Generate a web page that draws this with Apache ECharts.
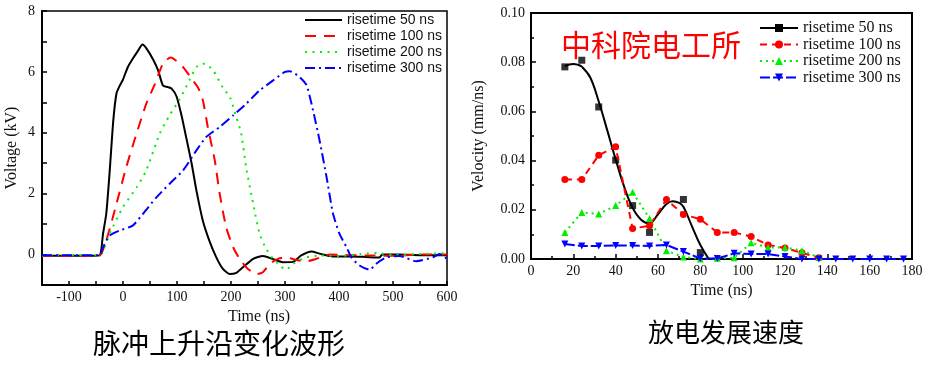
<!DOCTYPE html>
<html><head><meta charset="utf-8">
<script src="https://cdn.jsdelivr.net/npm/echarts@6/dist/echarts.min.js"></script>
<style>html,body{margin:0;padding:0;background:#fff}#c{width:926px;height:382px}</style>
</head><body><div id="c"></div>
<script>
// ---------- shared ----------
const seriesNames = ['risetime 50 ns', 'risetime 100 ns', 'risetime 200 ns', 'risetime 300 ns'];
const waveColors = ['#000000', '#ff0000', '#00ee00', '#0000ff'];

// ---------- left chart: voltage waveforms [time ns, voltage kV] ----------
const wave50 = [[-150,-0.04],[-100,-0.04],[-60,-0.04],[-43,-0.02],[-37,0.68],[-31,1.34],[-25,2.65],[-18,4.4],[-12,5.3],[-6,5.55],[0,5.75],[9,6.16],[18,6.43],[28,6.7],[36,6.9],[43,6.78],[56,6.4],[65,6.05],[74,5.55],[83,5.5],[90,5.45],[99,5.2],[108,4.6],[117,3.85],[127,3.0],[136,2.1],[148,1.1],[160,0.45],[173,-0.1],[185,-0.47],[198,-0.64],[210,-0.6],[222,-0.42],[241,-0.14],[259,-0.05],[278,-0.15],[296,-0.25],[315,-0.24],[330,-0.03],[349,0.1],[364,0.03],[389,-0.06],[420,-0.06],[450,-0.08],[475,-0.1],[480,0],[510,0],[550,-0.02],[600,-0.02]];
const wave100 = [[-150,-0.05],[-100,-0.05],[-60,-0.05],[-43,-0.03],[-31,0.46],[-12,1.67],[6,2.87],[25,3.97],[43,4.95],[59,5.6],[74,6.27],[88,6.47],[96,6.4],[111,6.16],[127,5.78],[139,5.48],[148,5.06],[157,4.19],[170,3.09],[179,2.0],[191,0.9],[204,0.24],[216,-0.14],[231,-0.47],[248,-0.64],[259,-0.58],[272,-0.3],[287,-0.14],[302,-0.09],[321,-0.18],[340,-0.22],[358,-0.14],[383,0],[420,-0.02],[460,-0.03],[500,-0.04],[550,0],[600,0]];
const wave200 = [[-150,-0.03],[-100,-0.02],[-43,-0.02],[-25,0.68],[0,1.56],[25,2.2],[43,2.76],[68,3.97],[86,4.57],[105,5.1],[123,5.72],[136,6.16],[151,6.27],[167,6.05],[185,5.48],[198,5.17],[210,4.5],[219,3.97],[228,2.87],[241,1.67],[253,0.68],[265,0.19],[278,-0.14],[293,-0.4],[302,-0.5],[315,-0.3],[340,-0.09],[364,-0.03],[400,-0.05],[440,0.02],[470,0.05],[500,-0.02],[550,0.02],[600,0.05]];
const wave300 = [[-150,-0.02],[-100,-0.02],[-43,-0.02],[-37,0.24],[-25,0.62],[-6,0.79],[18,0.95],[37,1.34],[62,1.88],[86,2.32],[111,2.76],[136,3.42],[154,3.86],[179,4.19],[204,4.57],[228,4.95],[253,5.39],[278,5.72],[299,5.99],[309,6.02],[327,5.83],[340,5.56],[352,4.73],[364,3.75],[377,2.54],[389,1.34],[401,0.68],[414,0.24],[423,-0.09],[438,-0.36],[457,-0.5],[469,-0.3],[488,-0.09],[512,-0.05],[543,-0.22],[574,-0.09],[586,0.02],[600,-0.14]];

// ---------- right chart: discharge velocity ----------
const velTime = [16,24,32,40,48,56,64,72,80,88,96,104,112,120,128,136,144,152,160,168,176];
const vel50Time = [16,24,32,40,48,56,72,80];
const vel50 = [0.0781,0.0808,0.0618,0.0402,0.0217,0.0108,0.0242,0.0026];
const fit50Time = [16,18,20,22,24,28,32,36,40,44,48,52,56,60,64,67,70,72,76,80,84];
const fit50 = [0.0784,0.0791,0.0793,0.079,0.0782,0.0738,0.064,0.0524,0.0405,0.0294,0.0208,0.016,0.0145,0.0182,0.0224,0.0235,0.0228,0.0212,0.0134,0.0057,0];
const vel100 = [0.0323,0.0323,0.0422,0.0456,0.0124,0.0135,0.0242,0.0181,0.0162,0.0108,0.0108,0.0091,0.0057,0.0045,0.0025,0.0005];
const vel200 = [0.0108,0.0189,0.0183,0.0217,0.0271,0.0165,0.0034,0.0008,0,0.0003,0.0005,0.0066,0.0047,0.0047,0.0034,0.0007];
const vel300 = [0.0061,0.0053,0.0053,0.0055,0.0055,0.0053,0.0057,0.003,0.0002,0.0002,0.0023,0.002,0.002,0.001,0,0,0,0,0,0,0];

// ---------- captions ----------
const leftCaption = '脉冲上升沿变化波形';
const rightCaption = '放电发展速度';
const watermark = '中科院电工所';

const zip = (xs, ys) => ys.map((y, i) => [xs[i], y]);
const SERIF = 'Liberation Serif';
const velPrefix = 'v·';

const chart = echarts.init(document.getElementById('c'), null, {renderer: 'canvas'});

function axisBase(extra) {
  return Object.assign({
    type: 'value',
    splitLine: {show: false},
    axisLine: {onZero: false, lineStyle: {color: '#000', width: 2}},
    axisTick: {inside: true, length: 5, lineStyle: {color: '#000', width: 1.5}},
    axisLabel: {fontFamily: SERIF, fontSize: 14, color: '#111'},
    nameTextStyle: {fontFamily: SERIF, fontSize: 16, color: '#111'}
  }, extra);
}

const waveData = [wave50, wave100, wave200, wave300];
const waveDash = ['solid', [11, 8], [2, 5.5], [10, 4, 2, 4]];

const series = [];
waveData.forEach((d, i) => {
  series.push({
    name: seriesNames[i], type: 'line', xAxisIndex: 0, yAxisIndex: 0,
    data: d, smooth: 0.2, symbol: 'none',
    lineStyle: {color: waveColors[i], width: 2, type: waveDash[i]},
    itemStyle: {color: waveColors[i]}
  });
});

const velColors = ['#000000', '#ff0000', '#00ee00', '#0000ff'];
const downTri = 'path://M0,0 L10,0 L5,9 Z';
// 50 ns fit curve (legend entry) and its measured points
series.push({
  name: velPrefix + seriesNames[0], type: 'line', xAxisIndex: 1, yAxisIndex: 1,
  data: zip(fit50Time, fit50), smooth: 0.4, symbol: 'rect', showSymbol: false,
  lineStyle: {color: velColors[0], width: 2}, itemStyle: {color: velColors[0]}
});
series.push({
  name: 'points 50', type: 'scatter', xAxisIndex: 1, yAxisIndex: 1,
  data: zip(vel50Time, vel50), symbol: 'rect', symbolSize: 7,
  itemStyle: {color: velColors[0]}
});
const velSets = [vel100, vel200, vel300];
const velSym = ['circle', 'triangle', downTri];
const velDash = [[7, 5], [2, 4], [10, 3]];
velSets.forEach((v, k) => {
  const i = k + 1;
  series.push({
    name: velPrefix + seriesNames[i], type: 'line', xAxisIndex: 1, yAxisIndex: 1,
    data: zip(velTime, v), symbol: velSym[k], symbolSize: 7, showSymbol: true,
    lineStyle: {color: velColors[i], width: 2, type: velDash[k]},
    itemStyle: {color: velColors[i]}
  });
});

const option = {
  animation: false,
  backgroundColor: '#ffffff',
  grid: [
    {left: 42, top: 11, width: 405, height: 274, show: true, borderColor: '#000', borderWidth: 1.5, backgroundColor: 'transparent'},
    {left: 531, top: 13, width: 381, height: 246, show: true, borderColor: '#000', borderWidth: 2, backgroundColor: 'transparent'}
  ],
  xAxis: [
    axisBase({gridIndex: 0, min: -150, max: 600, interval: 50,
      axisTick: {inside: true, length: 4, lineStyle: {color: '#000', width: 1.5}},
      axisLabel: {margin: 5, fontFamily: SERIF, fontSize: 14, color: '#111',
        formatter: v => (v % 100 === 0 ? String(v) : '')},
      name: 'Time (ns)', nameLocation: 'middle', nameGap: 24,
      nameTextStyle: {fontFamily: SERIF, fontSize: 16, color: '#111', padding: [0, 0, 0, 29]}}),
    axisBase({gridIndex: 1, min: 0, max: 180, interval: 20,
      minorTick: {show: true, splitNumber: 2, length: 3, lineStyle: {color: '#000', width: 1.5}},
      axisLabel: {margin: 5, fontFamily: SERIF, fontSize: 14, color: '#111'},
      name: 'Time (ns)', nameLocation: 'middle', nameGap: 24})
  ],
  yAxis: [
    axisBase({gridIndex: 0, min: -1, max: 8, interval: 1,
      axisLabel: {margin: 7, fontFamily: SERIF, fontSize: 14, color: '#111',
        formatter: v => (v >= 0 && v % 2 === 0 ? String(v) : '')},
      name: 'Voltage (kV)', nameLocation: 'middle', nameGap: 22, nameRotate: 90}),
    axisBase({gridIndex: 1, min: 0, max: 0.1, interval: 0.02,
      minorTick: {show: true, splitNumber: 2, length: 3, lineStyle: {color: '#000', width: 1.5}},
      axisLabel: {margin: 6, fontFamily: SERIF, fontSize: 14, color: '#111',
        formatter: v => v.toFixed(2)},
      name: 'Velocity (mm/ns)', nameLocation: 'middle', nameGap: 44, nameRotate: 90})
  ],
  legend: [
    {orient: 'vertical', left: 304, top: 13, padding: 0, itemWidth: 37, itemHeight: 14, itemGap: 2,
     data: seriesNames,
     itemStyle: {color: 'rgba(0,0,0,0)', borderWidth: 0},
     textStyle: {fontFamily: 'Liberation Sans', fontSize: 14, color: '#111'}},
    {orient: 'vertical', left: 759, top: 20, padding: 0, itemWidth: 38, itemHeight: 10, itemGap: 0.5,
     data: seriesNames.map(n => velPrefix + n),
     formatter: n => n.slice(velPrefix.length),
     textStyle: {fontFamily: SERIF, fontSize: 16, color: '#111'}}
  ],
  graphic: [
    {type: 'text', x: 651, y: 45, z: 10,
     style: {text: watermark, fill: '#ff0000', fontSize: 30, fontFamily: 'Noto Sans CJK SC', align: 'center', verticalAlign: 'middle'}},
    {type: 'text', x: 219, y: 343,
     style: {text: leftCaption, fill: '#000', fontSize: 28, fontFamily: 'Noto Sans CJK SC', align: 'center', verticalAlign: 'middle'}},
    {type: 'text', x: 726, y: 332,
     style: {text: rightCaption, fill: '#000', fontSize: 26, fontFamily: 'Noto Sans CJK SC', align: 'center', verticalAlign: 'middle'}}
  ],
  series: series
};
chart.setOption(option);
</script></body></html>
